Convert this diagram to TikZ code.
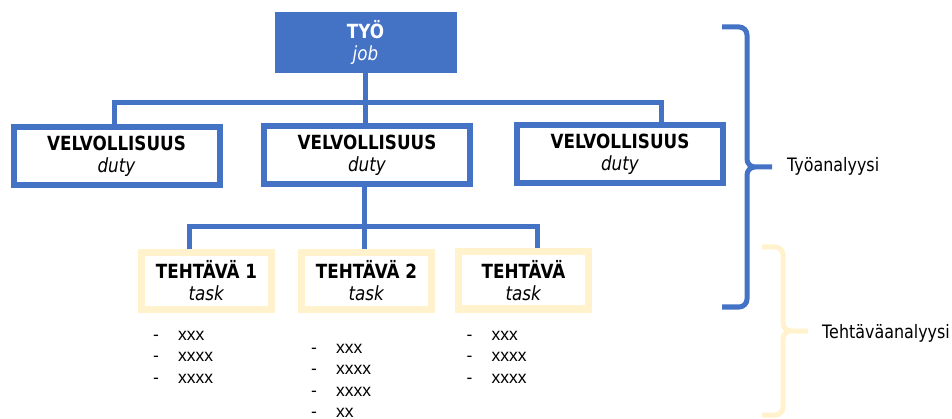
\documentclass[tikz,border=0pt]{standalone}
\usepackage{fontspec}
\setmainfont{DejaVu Sans}[FakeStretch=0.86]
\newfontfamily\listfont{Liberation Sans}
\usetikzlibrary{backgrounds}
\definecolor{orgblue}{HTML}{4472C4}
\definecolor{taskcream}{HTML}{FFF2CC}
\newcommand\itemdash{\makebox[25pt][l]{-}}
\begin{document}
\begin{tikzpicture}[x=1pt,y=-1pt,
  conn/.style={draw=orgblue,line width=5pt},
  boxfont/.style={font=\fontsize{19.5}{22}\selectfont},
  jobbox/.style={boxfont,fill=orgblue,text=white,minimum width=182pt,minimum height=61pt,inner sep=0pt,align=center},
  dutybox/.style={boxfont,draw=orgblue,line width=6pt,fill=white,minimum width=206pt,minimum height=58pt,inner sep=0pt,align=center},
  taskbox/.style={boxfont,draw=taskcream,line width=7pt,fill=white,minimum width=130pt,minimum height=57pt,inner sep=0pt,align=center},
  listitem/.style={anchor=base west,inner sep=0pt,font=\listfont\fontsize{17.5}{20}\selectfont},
  bracelbl/.style={anchor=base west,inner sep=0pt,font=\fontsize{18.5}{20}\selectfont},
  bluebrace/.style={draw=orgblue,line width=5pt},
  creambrace/.style={draw=taskcream,line width=5pt},
]
\useasboundingbox (0,0) rectangle (952,419);

% hierarchy boxes
\node[jobbox]  (job) at (365.5,42.5) {\textbf{TYÖ}\\\textit{job}};
\node[dutybox] (d1) at (116.5,156.5) {\textbf{VELVOLLISUUS}\\\textit{duty}};
\node[dutybox] (d2) at (367,155)    {\textbf{VELVOLLISUUS}\\\textit{duty}};
\node[dutybox] (d3) at (620,154.5)  {\textbf{VELVOLLISUUS}\\\textit{duty}};
\node[taskbox] (t1) at (206.5,281)  {\textbf{TEHTÄVÄ 1}\\\textit{task}};
\node[taskbox] (t2) at (366.5,281)  {\textbf{TEHTÄVÄ 2}\\\textit{task}};
\node[taskbox] (t3) at (523.5,280.5) {\textbf{TEHTÄVÄ}\\\textit{task}};

% bus points of the connectors
\coordinate (spine) at (365,103);
\coordinate (busL)  at (114,103);
\coordinate (busR)  at (661,103);
\coordinate (tspine) at (364,227);
\coordinate (tbusL) at (189,227);
\coordinate (tbusR) at (537,227);

\begin{scope}[on background layer]
  \draw[conn] (spine |- job.south) -- (spine |- d2.north);
  \draw[conn] (busL |- d1.north) -- (busL) -- (busR) -- (busR |- d3.north);
  \draw[conn] (tspine |- d2.south) -- (tspine |- t2.north);
  \draw[conn] (tbusL |- t1.north) -- (tbusL) -- (tbusR) -- (tbusR |- t3.north);
\end{scope}

% task lists
\node[listitem] (a1) at (153,340.5) {\itemdash xxx};
\node[listitem] (a2) at (153,361.5) {\itemdash xxxx};
\node[listitem] (a3) at (153,383)   {\itemdash xxxx};
\node[listitem] (b1) at (311,353)   {\itemdash xxx};
\node[listitem] (b2) at (311,374.5) {\itemdash xxxx};
\node[listitem] (b3) at (311,396)   {\itemdash xxxx};
\node[listitem] (b4) at (311,417.5) {\itemdash xx};
\node[listitem] (c1) at (466.5,340.5) {\itemdash xxx};
\node[listitem] (c2) at (466.5,361.5) {\itemdash xxxx};
\node[listitem] (c3) at (466.5,383)   {\itemdash xxxx};

% braces with their labels
\draw[bluebrace] (722,27) -- (739,27) to[out=0,in=90] (747,35) -- (747,159)
  to[out=-90,in=180] (755,167) -- (772,167)
  (755,167) to[out=180,in=90] (747,175) -- (747,299)
  to[out=-90,in=0] (739,307) -- (722,307);
\node[bracelbl] (lblA) at (787,172) {Työanalyysi};

\draw[creambrace] (762,247) -- (775,247) to[out=0,in=90] (783,255) -- (783,323)
  to[out=-90,in=180] (791,331) -- (808,331)
  (791,331) to[out=180,in=90] (783,339) -- (783,407)
  to[out=-90,in=0] (775,415) -- (762,415);
\node[bracelbl] (lblB) at (822,338) {Tehtäväanalyysi};
\end{tikzpicture}
\end{document}
